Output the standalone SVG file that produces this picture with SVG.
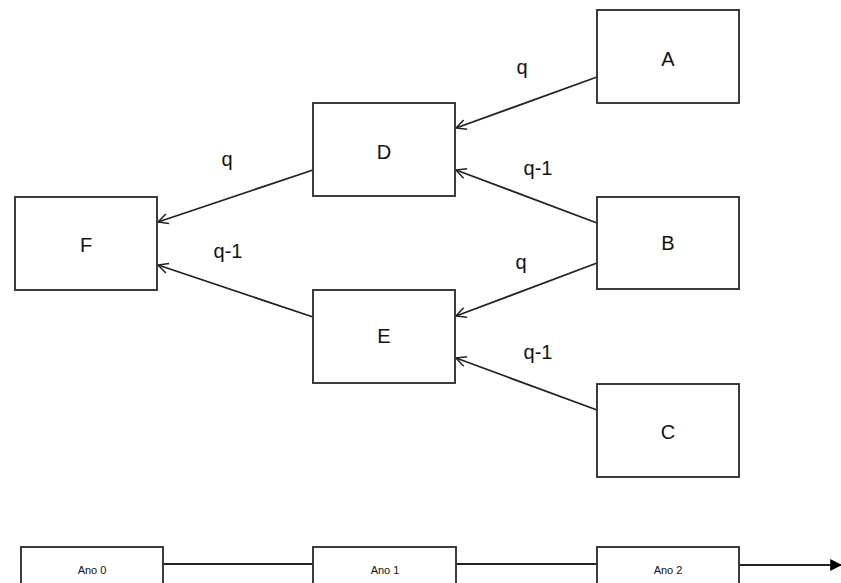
<svg xmlns="http://www.w3.org/2000/svg" width="841" height="583" viewBox="0 0 841 583">
<style>
.box{fill:#fff;stroke:#333;stroke-width:1.9}
.lbl{font-family:"Liberation Sans",Arial,sans-serif;font-size:20px;fill:#111;text-anchor:middle;dominant-baseline:central}
.el{font-family:"Liberation Sans",Arial,sans-serif;font-size:20px;fill:#111;text-anchor:middle;dominant-baseline:central}
.sm{font-family:"Liberation Sans",Arial,sans-serif;font-size:11px;fill:#111;text-anchor:middle;dominant-baseline:central}
.con{stroke:#222;stroke-width:1.8;fill:none}
</style>
<defs>
<marker id="open" viewBox="0 0 12 12" refX="11" refY="6" markerWidth="12" markerHeight="12" markerUnits="userSpaceOnUse" orient="auto">
<path d="M1,1 L11,6 L1,11" fill="none" stroke="#222" stroke-width="1.5"/>
</marker>
<marker id="solid" viewBox="0 0 10 10" refX="9" refY="5" markerWidth="12" markerHeight="12" markerUnits="userSpaceOnUse" orient="auto">
<path d="M0,0 L10,5 L0,10 Z" fill="#000"/>
</marker>
</defs>
<rect width="841" height="583" fill="#fff"/>
<g id="connectors">
<line class="con" x1="597" y1="77" x2="456" y2="128" marker-end="url(#open)"/>
<line class="con" x1="597" y1="223" x2="456" y2="170" marker-end="url(#open)"/>
<line class="con" x1="313" y1="170" x2="158" y2="222" marker-end="url(#open)"/>
<line class="con" x1="313" y1="317" x2="158" y2="265" marker-end="url(#open)"/>
<line class="con" x1="597" y1="263" x2="456" y2="316" marker-end="url(#open)"/>
<line class="con" x1="597" y1="410" x2="456" y2="358" marker-end="url(#open)"/>
<line class="con" x1="163" y1="564" x2="313" y2="564"/>
<line class="con" x1="456" y1="564" x2="597" y2="564"/>
<line class="con" x1="739" y1="565" x2="841" y2="565" marker-end="url(#solid)"/>
<text class="el" x="522" y="67">q</text>
<text class="el" x="538" y="168">q-1</text>
<text class="el" x="227" y="159">q</text>
<text class="el" x="228" y="251">q-1</text>
<text class="el" x="521" y="262">q</text>
<text class="el" x="538" y="352">q-1</text>
</g>
<g id="A"><rect class="box" x="597" y="10" width="142" height="93"/><text class="lbl" x="668" y="59">A</text></g>
<g id="D"><rect class="box" x="313" y="103" width="142" height="93"/><text class="lbl" x="384" y="152">D</text></g>
<g id="F"><rect class="box" x="15" y="197" width="142" height="93"/><text class="lbl" x="86" y="245">F</text></g>
<g id="B"><rect class="box" x="597" y="197" width="142" height="92"/><text class="lbl" x="668" y="243">B</text></g>
<g id="E"><rect class="box" x="313" y="290" width="142" height="93"/><text class="lbl" x="384" y="336">E</text></g>
<g id="C"><rect class="box" x="597" y="384" width="142" height="93"/><text class="lbl" x="668" y="432">C</text></g>
<g id="Ano0"><rect class="box" x="21" y="547" width="142" height="50"/><text class="sm" x="92" y="570">Ano 0</text></g>
<g id="Ano1"><rect class="box" x="313" y="547" width="143" height="50"/><text class="sm" x="385" y="570">Ano 1</text></g>
<g id="Ano2"><rect class="box" x="597" y="547" width="142" height="50"/><text class="sm" x="668" y="570">Ano 2</text></g>
</svg>
